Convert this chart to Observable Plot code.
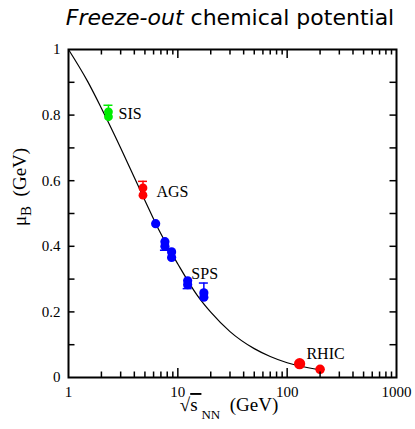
<!DOCTYPE html>
<html><head><meta charset="utf-8">
<script src="https://cdn.jsdelivr.net/npm/d3@7"></script>
<script src="https://cdn.jsdelivr.net/npm/@observablehq/plot@0.6"></script>
<style>
body{margin:0;background:#fff;}
#title{height:40px;width:368px;margin-left:46px;text-align:center;font-family:"DejaVu Sans",sans-serif;font-size:22px;line-height:36px;color:#000;white-space:nowrap;}
#chart svg{display:block;}
</style></head><body>
<div id="title"><i>Freeze-out</i> chemical potential</div>
<div id="chart"></div>
<script>
// Measured points: sqrt(s_NN) in GeV, mu_B in GeV, upper/lower error, experiment
const energy = [2.32, 2.32, 4.8, 4.8, 6.27, 7.62, 7.62, 8.77, 8.77, 12.3, 12.3, 17.3, 17.3, 130, 200];
const muB    = [0.81, 0.795, 0.578, 0.556, 0.469, 0.414, 0.400, 0.383, 0.366, 0.295, 0.283, 0.258, 0.245, 0.042, 0.025];
const errUp  = [0.02, 0, 0.02, 0, 0, 0, 0, 0, 0, 0, 0, 0.03, 0, 0, 0];
const errDown= [0, 0, 0, 0, 0, 0, 0.012, 0, 0, 0, 0.012, 0, 0, 0, 0];
const experiment = ["SIS","SIS","AGS","AGS","SPS","SPS","SPS","SPS","SPS","SPS","SPS","SPS","SPS","RHIC","RHIC"];
const dotSize = [4.4,4.4,4.4,4.4,4.6,4.6,4.6,4.6,4.6,4.6,4.6,4.6,4.6,5.6,4.8];
const experimentColors = {SIS: "#00ee00", AGS: "#ff0000", SPS: "#0000ff", RHIC: "#ff0000"};

// Fitted curve
const curveEnergy = [1, 1.5, 2, 3, 4, 5, 7, 10, 15, 20, 30, 50, 70, 100, 130, 200];
const curveMu     = [1.0, 0.902, 0.821, 0.700, 0.610, 0.540, 0.438, 0.346, 0.251, 0.199, 0.140, 0.088, 0.064, 0.045, 0.035, 0.023];

// Experiment labels
const labelText = ["SIS", "AGS", "SPS", "RHIC"];
const labelEnergy = [2.87, 6.38, 13.3, 150];
const labelMu = [0.805, 0.565, 0.317, 0.073];

// Ticks
const xTickLabels = [1, 10, 100, 1000];
const xMajorTicks = [10, 100];
const xMinorTicks = [2,3,4,5,6,7,8,9,20,30,40,50,60,70,80,90,200,300,400,500,600,700,800,900];
const yTickLabels = [0, 0.2, 0.4, 0.6, 0.8, 1];
const yTicks = [0.1,0.2,0.3,0.4,0.5,0.6,0.7,0.8,0.9];

const points = energy.map((e, i) => ({e, mu: muB[i], up: errUp[i], down: errDown[i], exp: experiment[i], r: dotSize[i]}));
const upPts = points.filter(d => d.up > 0);
const downPts = points.filter(d => d.down > 0);
const curve = curveEnergy.map((e, i) => ({e, mu: curveMu[i]}));
const labels = labelText.map((t, i) => ({t, e: labelEnergy[i], mu: labelMu[i]}));

const W = 415, H = 389, mL = 68, mR = 19, mT = 9, mB = 52;
const iw = W - mL - mR, ih = H - mT - mB;
const col = d => experimentColors[d.exp];
// tick lengths (px) converted to data units
const yPx = px => px / ih;                    // linear y over [0,1]
const xPx = px => Math.pow(10, 3 * px / iw);  // log x over 3 decades
const majorLen = 9, minorLen = 5.5, yLen = 6.5;

const xTickRows = [
  ...xMajorTicks.map(v => ({v, a: 0, b: yPx(majorLen)})),
  ...xMinorTicks.map(v => ({v, a: 0, b: yPx(minorLen)})),
  ...xMajorTicks.map(v => ({v, a: 1 - yPx(majorLen), b: 1})),
  ...xMinorTicks.map(v => ({v, a: 1 - yPx(minorLen), b: 1}))
];
const yTickRows = [
  ...yTicks.map(v => ({v, a: 1, b: xPx(yLen)})),
  ...yTicks.map(v => ({v, a: 1000 / xPx(yLen), b: 1000}))
];

const chart = Plot.plot({
  width: W, height: H,
  marginLeft: mL, marginRight: mR, marginTop: mT, marginBottom: mB,
  style: {fontFamily: "'Liberation Serif', serif", fontSize: "15px", color: "#000", background: "#fff"},
  x: {type: "log", domain: [1, 1000]},
  y: {domain: [0, 1]},
  r: {type: "identity"},
  marks: [
    Plot.line(curve, {x: "e", y: "mu", curve: "monotone-x", stroke: "#000", strokeWidth: 1.2, clip: true}),
    Plot.ruleX(upPts, {x: "e", y1: "mu", y2: d => d.mu + d.up, stroke: col, strokeWidth: 1.5}),
    Plot.ruleY(upPts, {y: d => d.mu + d.up, x1: "e", x2: "e", insetLeft: -4.5, insetRight: -4.5, stroke: col, strokeWidth: 1.5}),
    Plot.ruleX(downPts, {x: "e", y1: d => d.mu - d.down, y2: "mu", stroke: col, strokeWidth: 1.5}),
    Plot.ruleY(downPts, {y: d => d.mu - d.down, x1: "e", x2: "e", insetLeft: -4.5, insetRight: -4.5, stroke: col, strokeWidth: 1.5}),
    Plot.dot(points, {x: "e", y: "mu", r: "r", fill: col, stroke: "none"}),
    Plot.text(labels, {x: "e", y: "mu", text: "t", textAnchor: "start", fontSize: 16, fill: "#000"}),
    // inward ticks on all four sides
    Plot.ruleX(xTickRows, {x: "v", y1: "a", y2: "b", stroke: "#000", strokeWidth: 1.5}),
    Plot.ruleY(yTickRows, {y: "v", x1: "a", x2: "b", stroke: "#000", strokeWidth: 1.5}),
    Plot.axisX(xTickLabels, {tickSize: 0, tickPadding: 9, tickFormat: d => String(d), label: null}),
    Plot.axisY(yTickLabels, {tickSize: 0, tickPadding: 8, tickFormat: d => (d === 0 || d === 1) ? String(d) : d.toFixed(1), label: null}),
    Plot.frame({stroke: "#000", strokeWidth: 2})
  ]
});

const svg = d3.select(chart);
// x axis label
const xl = svg.append("text")
  .attr("x", 229).attr("y", 371)
  .attr("text-anchor", "middle")
  .attr("font-family", "'Liberation Serif', serif")
  .attr("font-size", 19).attr("fill", "#000");
xl.append("tspan").text("\u221A");
xl.append("tspan").text("s\u2009").style("text-decoration", "overline");
xl.append("tspan").attr("dy", 8).attr("font-size", 13).text("NN");
xl.append("tspan").attr("dy", -8).text("\u2002(GeV)");
// y axis label
const yl = svg.append("text")
  .attr("transform", "translate(26,147) rotate(-90)")
  .attr("text-anchor", "middle")
  .attr("font-family", "'Liberation Serif', serif")
  .attr("font-size", 19).attr("fill", "#000");
yl.append("tspan").text("\u03BC");
yl.append("tspan").attr("dy", 5).attr("font-size", 15).text("B");
yl.append("tspan").attr("dy", -5).text("\u2002(GeV)");

document.getElementById("chart").appendChild(chart);
</script>
</body></html>
